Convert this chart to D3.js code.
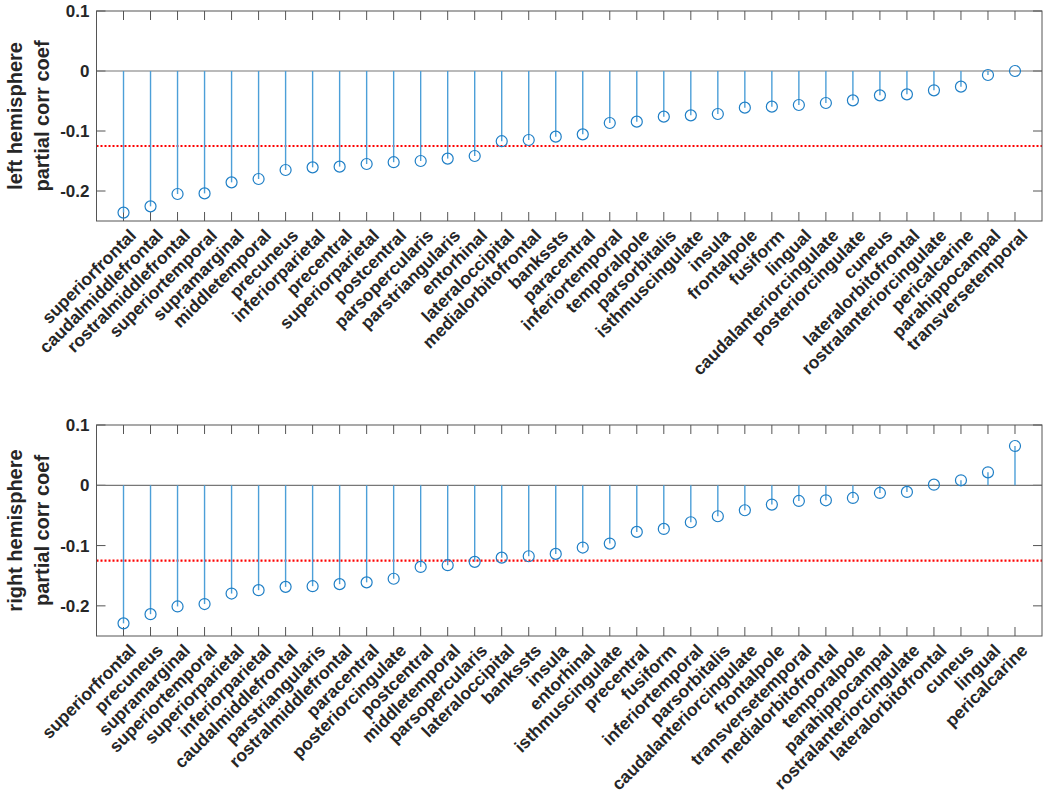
<!DOCTYPE html>
<html><head><meta charset="utf-8">
<script src="https://cdn.jsdelivr.net/npm/d3@7"></script>
<style>body{margin:0;background:#fff}svg{display:block}text{font-family:"Liberation Sans",Arial,sans-serif}</style>
</head><body><svg id="c" width="1050" height="801"></svg>
<script>
const leftRegions = ["superiorfrontal","caudalmiddlefrontal","rostralmiddlefrontal","superiortemporal","supramarginal","middletemporal","precuneus","inferiorparietal","precentral","superiorparietal","postcentral","parsopercularis","parstriangularis","entorhinal","lateraloccipital","medialorbitofrontal","bankssts","paracentral","inferiortemporal","temporalpole","parsorbitalis","isthmuscingulate","insula","frontalpole","fusiform","lingual","caudalanteriorcingulate","posteriorcingulate","cuneus","lateralorbitofrontal","rostralanteriorcingulate","pericalcarine","parahippocampal","transversetemporal"];
const leftValues = [-0.236,-0.2256,-0.205,-0.204,-0.1856,-0.180,-0.165,-0.1606,-0.1594,-0.155,-0.152,-0.150,-0.146,-0.1417,-0.117,-0.115,-0.1094,-0.1056,-0.0867,-0.0844,-0.0761,-0.0739,-0.0717,-0.0611,-0.0594,-0.0567,-0.0533,-0.0489,-0.0406,-0.0389,-0.0322,-0.0261,-0.0067,0.0];
const rightRegions = ["superiorfrontal","precuneus","supramarginal","superiortemporal","superiorparietal","inferiorparietal","caudalmiddlefrontal","parstriangularis","rostralmiddlefrontal","paracentral","posteriorcingulate","postcentral","middletemporal","parsopercularis","lateraloccipital","bankssts","insula","entorhinal","isthmuscingulate","precentral","fusiform","inferiortemporal","parsorbitalis","caudalanteriorcingulate","frontalpole","transversetemporal","medialorbitofrontal","temporalpole","parahippocampal","rostralanteriorcingulate","lateralorbitofrontal","cuneus","lingual","pericalcarine"];
const rightValues = [-0.229,-0.2138,-0.201,-0.197,-0.1796,-0.174,-0.1685,-0.1674,-0.164,-0.161,-0.155,-0.1354,-0.1326,-0.127,-0.120,-0.1177,-0.1138,-0.1033,-0.0967,-0.0773,-0.0724,-0.0613,-0.0514,-0.0414,-0.032,-0.026,-0.0249,-0.021,-0.0127,-0.011,0.001,0.0083,0.0215,0.0652];
const yTicks = [-0.2,-0.1,0,0.1];
const yTickLabels = ["-0.2","-0.1","0","0.1"];
const threshold = -0.125;
const yDomain = [-0.25, 0.1];
const panels = [
  {names:leftRegions, values:leftValues, label:["left hemisphere","partial corr coef"], top:11, bottom:221},
  {names:rightRegions, values:rightValues, label:["right hemisphere","partial corr coef"], top:425, bottom:636}
];
const svg = d3.select("#c");
const L = 96.5, R = 1042;
const axisColor = "#555";
const stemColor = "#4c9fd8", markColor = "#1f7fc6";
panels.forEach(p => {
  const n = p.names.length;
  const x = d3.scaleLinear().domain([0, n+1]).range([L, R]);
  const y = d3.scaleLinear().domain(yDomain).range([p.bottom, p.top]);
  const g = svg.append("g");
  const tl = 9;
  p.names.forEach((nm,i)=>{
    const xx = x(i+1);
    g.append("line").attr("x1",xx).attr("x2",xx).attr("y1",p.bottom).attr("y2",p.bottom-tl).attr("stroke",axisColor).attr("stroke-width",1);
    g.append("line").attr("x1",xx).attr("x2",xx).attr("y1",p.top).attr("y2",p.top+tl).attr("stroke",axisColor).attr("stroke-width",1);
  });
  yTicks.forEach((t,k)=>{
    const yy = y(t);
    g.append("line").attr("x1",L).attr("x2",L+tl).attr("y1",yy).attr("y2",yy).attr("stroke",axisColor);
    g.append("line").attr("x1",R).attr("x2",R-tl).attr("y1",yy).attr("y2",yy).attr("stroke",axisColor);
    g.append("text").attr("x",L-7).attr("y",yy).attr("dy","0.35em").attr("text-anchor","end")
      .attr("font-size",17).attr("font-weight","bold").attr("fill","#262626").text(yTickLabels[k]);
  });
  g.append("line").attr("x1",L).attr("x2",R).attr("y1",y(0)).attr("y2",y(0)).attr("stroke","#777").attr("stroke-width",1.2);
  g.append("line").attr("x1",L).attr("x2",R).attr("y1",y(threshold)).attr("y2",y(threshold))
    .attr("stroke","#ff0000").attr("stroke-width",2.2).attr("stroke-dasharray","2,2");
  g.selectAll(".stem").data(p.values).enter().append("line")
    .attr("x1",(d,i)=>x(i+1)).attr("x2",(d,i)=>x(i+1)).attr("y1",y(0)).attr("y2",d=>y(d))
    .attr("stroke",stemColor).attr("stroke-width",1.4);
  g.selectAll(".mk").data(p.values).enter().append("circle")
    .attr("cx",(d,i)=>x(i+1)).attr("cy",d=>y(d)).attr("r",5.5)
    .attr("fill","none").attr("stroke",markColor).attr("stroke-width",1.2);
  g.append("rect").attr("x",L).attr("y",p.top).attr("width",R-L).attr("height",p.bottom-p.top)
    .attr("fill","none").attr("stroke",axisColor).attr("stroke-width",1);
  p.names.forEach((nm,i)=>{
    const xx = x(i+1)+5, yy = p.bottom+7;
    g.append("text").attr("transform",`translate(${xx},${yy}) rotate(-45)`)
      .attr("text-anchor","end").attr("dy","0.7em").attr("font-size",17.5).attr("font-weight","bold")
      .attr("fill","#262626").text(nm);
  });
  const cy = (p.top+p.bottom)/2;
  g.append("text").attr("transform",`translate(22,${cy}) rotate(-90)`).attr("text-anchor","middle")
    .attr("font-size",20).attr("font-weight","bold").attr("fill","#262626").text(p.label[0]);
  g.append("text").attr("transform",`translate(49,${cy}) rotate(-90)`).attr("text-anchor","middle")
    .attr("font-size",20).attr("font-weight","bold").attr("fill","#262626").text(p.label[1]);
});
</script></body></html>
